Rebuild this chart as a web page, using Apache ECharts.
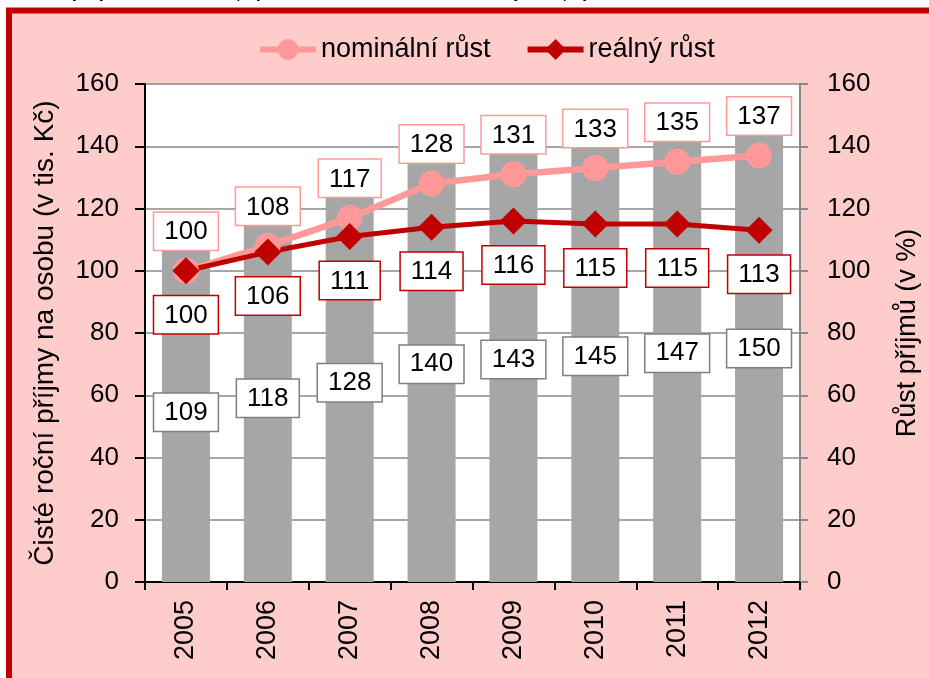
<!DOCTYPE html>
<html>
<head>
<meta charset="utf-8">
<script src="https://cdn.jsdelivr.net/npm/echarts@6/dist/echarts.min.js"></script>
<style>
  html, body { margin: 0; padding: 0; background: #fff; }
  #chart { width: 929px; height: 678px; }
</style>
</head>
<body>
<div id="chart"></div>
<script>
const years = ['2005', '2006', '2007', '2008', '2009', '2010', '2011', '2012'];
// čisté roční příjmy na osobu (tis. Kč)
const income = [109, 118, 128, 140, 143, 145, 147, 150];
// index růstu (2005 = 100)
const nominal = [100, 108, 117, 128, 131, 133, 135, 137];
const real = [100, 106, 111, 114, 116, 115, 115, 113];

const font = 'Liberation Sans, Arial, sans-serif';
const chart = echarts.init(document.getElementById('chart'));

const boxLabel = (pos, border, dist) => ({
  show: true,
  position: pos,
  distance: dist,
  fontSize: 26,
  fontFamily: font,
  color: '#000',
  backgroundColor: '#fff',
  borderColor: border,
  borderWidth: 1.5,
  padding: [5, 10, 3, 10],
  lineHeight: 29
});

const option = {
  backgroundColor: '#fff',
  animation: false,
  textStyle: { fontFamily: font },
  graphic: [
    {
      type: 'rect', z: -10, silent: true,
      shape: { x: 9, y: 10.5, width: 1000, height: 1000 },
      style: { fill: '#FFCCCC', stroke: '#C00000', lineWidth: 6 }
    },
    {
      type: 'text', z: -10, silent: true, left: 2, top: -17,
      style: {
        text: 'Graf 1: Vývoj čistého ročního příjmu na osobu, nominální a reálný růst příjmů, 2005 až 2012',
        font: 'italic 18px Liberation Sans, Arial', fill: '#000'
      }
    }
  ],
  legend: {
    top: 31,
    left: 252,
    itemWidth: 56,
    itemHeight: 26,
    itemGap: 34,
    lineStyle: { width: 6 },
    textStyle: { fontSize: 27, color: '#000', fontFamily: font },
    data: ['nominální růst', 'reálný růst']
  },
  grid: { left: 145, right: 119, top: 84, bottom: 96, show: true, backgroundColor: '#fff', borderWidth: 0 },
  xAxis: {
    type: 'category',
    data: years,
    axisLine: { lineStyle: { color: '#000', width: 2 } },
    axisTick: { show: true, length: 8, lineStyle: { color: '#000', width: 2 } },
    axisLabel: { rotate: 90, fontSize: 27, color: '#000', margin: 18 }
  },
  yAxis: [
    {
      type: 'value', min: 0, max: 160, interval: 20,
      name: 'Čisté roční příjmy na osobu (v tis. Kč)',
      nameLocation: 'middle', nameRotate: 90, nameGap: 86,
      nameTextStyle: { fontSize: 28, color: '#000' },
      axisLine: { show: true, lineStyle: { color: '#000', width: 2 } },
      axisTick: { show: true, length: 10, lineStyle: { color: '#000', width: 2 } },
      axisLabel: { fontSize: 26, color: '#000', margin: 26 },
      splitLine: { lineStyle: { color: '#888', width: 1.5 } }
    },
    {
      type: 'value', min: 0, max: 160, interval: 20,
      name: 'Růst příjmů (v %)',
      nameLocation: 'middle', nameRotate: 90, nameGap: 94,
      nameTextStyle: { fontSize: 27, color: '#000' },
      axisLine: { show: true, lineStyle: { color: '#888', width: 2 } },
      axisTick: { show: true, length: 8, lineStyle: { color: '#888', width: 2 } },
      axisLabel: { fontSize: 26, color: '#000', margin: 27 },
      splitLine: { show: false }
    }
  ],
  series: [
    {
      name: 'příjmy',
      type: 'bar',
      yAxisIndex: 0,
      barWidth: 48,
      itemStyle: { color: '#A6A6A6' },
      label: boxLabel('inside', '#7F7F7F', 0),
      data: income
    },
    {
      name: 'nominální růst',
      type: 'line',
      yAxisIndex: 1,
      symbol: 'circle',
      symbolSize: 26,
      color: '#FF9999',
      lineStyle: { width: 6.5, color: '#FF9999' },
      itemStyle: { color: '#FF9999' },
      label: boxLabel('top', '#FF9999', 8),
      data: nominal
    },
    {
      name: 'reálný růst',
      type: 'line',
      yAxisIndex: 1,
      symbol: 'diamond',
      symbolSize: 27,
      color: '#C00000',
      lineStyle: { width: 5, color: '#C00000' },
      itemStyle: { color: '#C00000' },
      label: boxLabel('bottom', '#C00000', 12),
      data: real
    }
  ]
};

chart.setOption(option);
</script>
</body>
</html>
